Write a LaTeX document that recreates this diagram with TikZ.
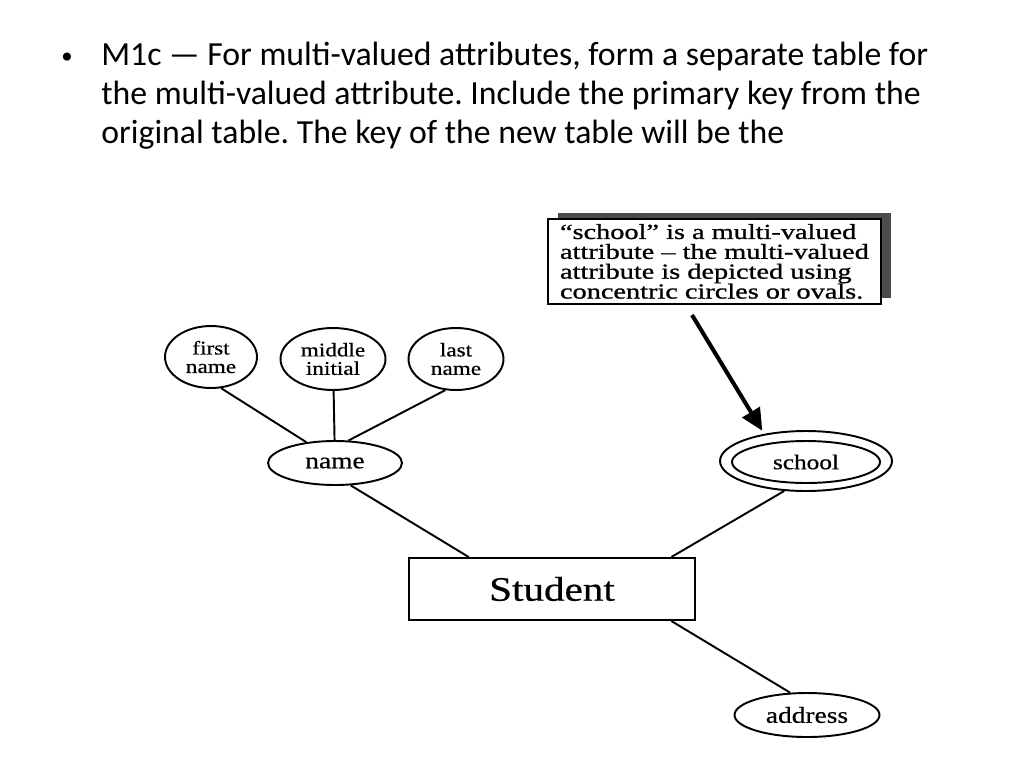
\documentclass[tikz,border=0pt]{standalone}
\usepackage{fontspec}
\usepackage{tikz}
\usetikzlibrary{arrows.meta, shapes.geometric, shadows}
\setmainfont{Carlito}
\newfontfamily\erfont[FakeStretch=1.2, FakeBold=0.6]{Liberation Serif}
\newfontfamily\notefont[FakeStretch=1.32, FakeBold=1]{Liberation Serif}
\frenchspacing

\tikzset{
    attr/.style={draw=black, line width=1.1pt, ellipse, inner sep=0pt, align=center, font=\erfont\fontsize{11}{10.5}\selectfont},
    ent/.style={draw=black, line width=1.1pt, rectangle, inner sep=0pt, minimum width=5.72cm, minimum height=1.24cm, font=\erfont\fontsize{19.5}{20}\selectfont},
    link/.style={black, line width=1.1pt},
    slide/.style={anchor=base west, inner sep=0pt, font=\fontsize{19.2}{23}\selectfont}
}

\begin{document}
\begin{tikzpicture}[x=0.02cm, y=-0.02cm]
        \useasboundingbox (0,0) rectangle (1024,768);

        \node[inner sep=0pt, font=\fontsize{13}{13}\selectfont] (bullet) at (67,58) {•};
        \node[slide] (line1) at (101,65) {M1c — For multi-valued attributes, form a separate table for};
        \node[slide] (line2) at (101,104) {the multi-valued attribute. Include the primary key from the};
        \node[slide] (line3) at (101,143) {original table. The key of the new table will be the};

        \node[draw=black, fill=white, line width=1.1pt, anchor=north west, inner xsep=0.18cm, inner ysep=0pt, minimum width=6.66cm, minimum height=1.7cm, align=left, font=\notefont\fontsize{12.2}{11.3}\selectfont, drop shadow={shadow xshift=0.2cm, shadow yshift=0.12cm, fill=gray!60!black, opacity=1}] (note) at (547,218) {“school” is a multi-valued\\attribute – the multi-valued\\attribute is depicted using\\concentric circles or ovals.};

        \node[attr, minimum width=1.84cm, minimum height=1.24cm] (first) at (211,357) {first\\name};
        \node[attr, minimum width=2.1cm, minimum height=1.24cm] (middle) at (333,359) {middle\\initial};
        \node[attr, minimum width=1.9cm, minimum height=1.24cm] (last) at (456,359) {last\\name};
        \node[attr, minimum width=2.68cm, minimum height=0.88cm, font=\erfont\fontsize{13}{13}\selectfont] (name) at (335,463) {name};

        \node[attr, minimum width=3.44cm, minimum height=1.2cm] (school) at (806,461) {};
        \node[attr, minimum width=2.96cm, minimum height=0.84cm, font=\erfont\fontsize{12}{12}\selectfont] (schoolin) at (806,462) {school};

        \node[ent] (student) at (552,589) {Student};

        \node[attr, minimum width=2.9cm, minimum height=0.88cm, font=\erfont\fontsize{13}{13}\selectfont] (address) at (807,715) {address};

        \coordinate (tail) at (692,315);

        \draw[link] (first.-72) -- (name.144);
        \draw[link] (middle) -- (name);
        \draw[link] (last.-109.5) -- (name.59.4);
        \draw[link] (name.-55) -- (student.159.3);
        \draw[link] (student.15.8) -- (school.-126.6);
        \draw[link] (student.-15.6) -- (address.127.7);
        \draw[line width=2.3pt, -{Triangle[length=0.44cm, width=0.4cm]}, shorten >=2pt] (tail) -- (school.147);
    \end{tikzpicture}
\end{document}
